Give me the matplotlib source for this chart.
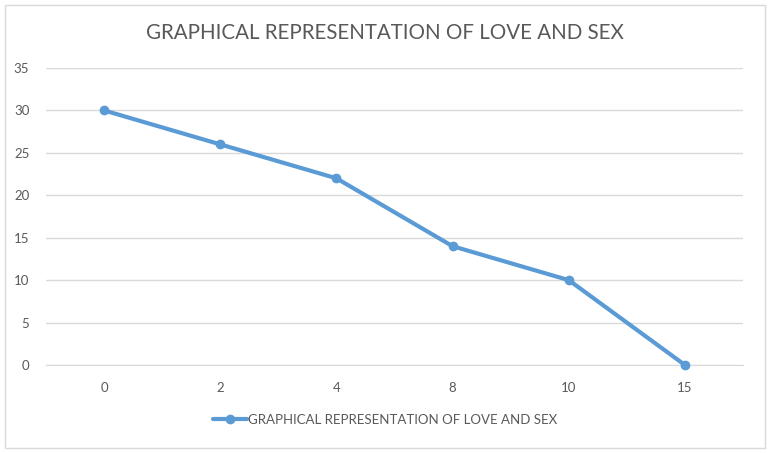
import matplotlib.pyplot as plt
from matplotlib.patches import Rectangle

# category labels on the x axis and the plotted values
categories = ['0', '2', '4', '8', '10', '15']
values = [30, 26, 22, 14, 10, 0]
series_name = 'GRAPHICAL REPRESENTATION OF LOVE AND SEX'
yticks = [0, 5, 10, 15, 20, 25, 30, 35]

plt.rcParams['font.family'] = ['Lato', 'DejaVu Sans']
text_col = '#595959'
grid_col = '#D9D9D9'
line_col = '#5B9BD5'

fig = plt.figure(figsize=(7.7, 4.53), dpi=100)
fig.patches.append(Rectangle((5 / 770, 5 / 453), 760 / 770, 443 / 453,
                             transform=fig.transFigure, fill=False,
                             edgecolor=grid_col, linewidth=1))

ax = fig.add_axes([46 / 770, 88 / 453, 697 / 770, 297 / 453])
x = list(range(len(categories)))
ax.plot(x, values, color=line_col, linewidth=3, marker='o', markersize=6,
        label=series_name, solid_capstyle='round', clip_on=False, zorder=3)

ax.set_xlim(-0.5, len(categories) - 0.5)
ax.set_ylim(0, 35)
ax.set_yticks(yticks)
ax.set_xticks(x)
ax.set_xticklabels(categories)
ax.grid(axis='y', color=grid_col, linewidth=1)
ax.set_axisbelow(True)
for s in ['top', 'right', 'left']:
    ax.spines[s].set_visible(False)
ax.spines['bottom'].set_color(grid_col)
ax.tick_params(length=0, colors=text_col, labelsize=9.5)
ax.tick_params(axis='x', pad=12)
ax.tick_params(axis='y', pad=12)

fig.text(0.5, 1 - 33 / 453, series_name, ha='center', va='center',
         fontsize=14.8, color=text_col)

leg = ax.legend(loc='center', bbox_to_anchor=(0.5, 1 - 420 / 453),
                bbox_transform=fig.transFigure, frameon=False,
                fontsize=9.5, handlelength=2.6, handletextpad=0.1)
for t in leg.get_texts():
    t.set_color(text_col)

fig.savefig('out.png', dpi=100)
